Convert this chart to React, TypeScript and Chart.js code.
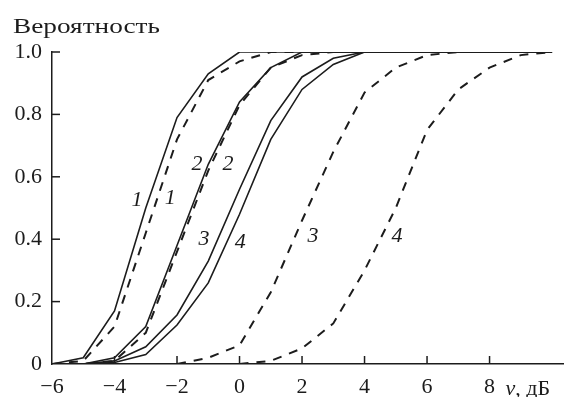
import React, { useEffect, useRef } from 'react';
import { Chart, registerables } from 'chart.js';

Chart.register(...registerables);

const xValues = [-6, -5, -4, -3, -2, -1, 0, 1, 2, 3, 4, 5, 6, 7, 8, 9, 10];
const solid1 = [0, 0.02, 0.17, 0.5, 0.79, 0.93, 1, 1, 1, 1, 1, 1, 1, 1, 1, 1, 1];
const dashed1 = [0, 0.01, 0.12, 0.42, 0.72, 0.91, 0.97, 1, 1, 1, 1, 1, 1, 1, 1, 1, 1];
const solid2 = [0, 0, 0.02, 0.12, 0.38, 0.64, 0.84, 0.95, 1, 1, 1, 1, 1, 1, 1, 1, 1];
const dashed2 = [0, 0, 0.01, 0.1, 0.36, 0.62, 0.83, 0.95, 0.99, 1, 1, 1, 1, 1, 1, 1, 1];
const solid3 = [0, 0, 0.01, 0.055, 0.157, 0.33, 0.56, 0.78, 0.92, 0.98, 1, 1, 1, 1, 1, 1, 1];
const solid4 = [0, 0, 0.005, 0.03, 0.125, 0.26, 0.48, 0.72, 0.88, 0.96, 1, 1, 1, 1, 1, 1, 1];
const dashed3 = [null, null, null, null, 0, 0.02, 0.06, 0.23, 0.46, 0.68, 0.87, 0.95, 0.99, 1, 1, 1, 1];
const dashed4 = [null, null, null, null, null, null, 0, 0.01, 0.05, 0.13, 0.3, 0.5, 0.75, 0.88, 0.95, 0.99, 1];

const curveLabels = ['1', '1', '2', '2', '3', '4', '3', '4'];
const labelX = [-3.28, -2.22, -1.36, -0.37, -1.14, 0.02, 2.35, 5.04];
const labelY = [0.526, 0.53, 0.64, 0.64, 0.4, 0.39, 0.41, 0.41];

const xTicks = [-6, -4, -2, 0, 2, 4, 6, 8];
const yTicks = [0, 0.2, 0.4, 0.6, 0.8, 1.0];
const yTitle = 'Вероятность';
const xTitleVar = 'v';
const xTitleUnit = ', дБ';

const SERIF = "'Liberation Serif', 'Times New Roman', Times, serif";
const INK = '#1c1c1c';

function toPoints(ys: (number | null)[]) {
  return xValues.map((x, i) => ({ x, y: ys[i] })).filter((p) => p.y !== null);
}

const annotatePlugin = {
  id: 'annotate',
  afterDraw(chart: any) {
    const { ctx, chartArea } = chart;
    const xs = chart.scales.x;
    const ys = chart.scales.y;
    ctx.save();
    ctx.strokeStyle = INK;
    ctx.lineWidth = 1.5;
    xTicks.forEach((v, i) => {
      if (i === 0) return;
      const px = xs.getPixelForValue(v);
      ctx.beginPath();
      ctx.moveTo(px, chartArea.bottom);
      ctx.lineTo(px, chartArea.bottom - 8);
      ctx.stroke();
    });
    yTicks.forEach((v) => {
      if (v === 0) return;
      const py = ys.getPixelForValue(v);
      ctx.beginPath();
      ctx.moveTo(chartArea.left, py);
      ctx.lineTo(chartArea.left + 8, py);
      ctx.stroke();
    });

    ctx.fillStyle = INK;
    ctx.font = `italic 22px ${SERIF}`;
    ctx.textAlign = 'center';
    ctx.textBaseline = 'middle';
    curveLabels.forEach((t, i) => {
      ctx.fillText(t, xs.getPixelForValue(labelX[i]), ys.getPixelForValue(labelY[i]));
    });

    // y title
    ctx.font = `22px ${SERIF}`;
    ctx.textAlign = 'left';
    ctx.textBaseline = 'alphabetic';
    const w = ctx.measureText(yTitle).width;
    ctx.save();
    ctx.translate(13, chartArea.top - 19);
    ctx.scale(147 / w, 1);
    ctx.fillText(yTitle, 0, 0);
    ctx.restore();

    // x title
    const bx = xs.getPixelForValue(8) + 16;
    const by = chartArea.bottom + 31;
    ctx.font = `italic 22px ${SERIF}`;
    ctx.fillText(xTitleVar, bx, by);
    const vw = ctx.measureText(xTitleVar).width;
    ctx.font = `22px ${SERIF}`;
    ctx.fillText(xTitleUnit, bx + vw, by);
    ctx.restore();
  },
};

export default function App() {
  const ref = useRef<HTMLCanvasElement>(null);
  useEffect(() => {
    if (!ref.current) return;
    const solidStyle = { borderColor: INK, borderWidth: 1.6, pointRadius: 0, fill: false, tension: 0 };
    const dashStyle = { ...solidStyle, borderWidth: 2, borderDash: [9, 8] };
    const chart = new Chart(ref.current, {
      type: 'line',
      data: {
        datasets: [
          { ...solidStyle, data: toPoints(solid1) },
          { ...dashStyle, data: toPoints(dashed1) },
          { ...solidStyle, data: toPoints(solid2) },
          { ...dashStyle, data: toPoints(dashed2) },
          { ...solidStyle, data: toPoints(solid3) },
          { ...solidStyle, data: toPoints(solid4) },
          { ...dashStyle, data: toPoints(dashed3) },
          { ...dashStyle, data: toPoints(dashed4) },
        ] as any,
      },
      options: {
        animation: false,
        responsive: true,
        maintainAspectRatio: false,
        layout: { padding: { top: 52, right: 1, left: 0, bottom: 0 } },
        plugins: { legend: { display: false }, tooltip: { enabled: false } },
        scales: {
          x: {
            type: 'linear',
            min: -6,
            max: 10.35,
            grid: { display: false, drawTicks: false },
            border: { display: true, color: INK, width: 1.5 },
            afterBuildTicks: (s: any) => {
              s.ticks = xTicks.map((v) => ({ value: v }));
            },
            afterFit: (s: any) => {
              s.height = 33;
            },
            ticks: {
              color: INK,
              padding: 10,
              maxRotation: 0,
              font: { family: SERIF, size: 22 },
              callback: (v: any) => (v < 0 ? '\u2212' + Math.abs(v) : String(v)),
            },
          },
          y: {
            type: 'linear',
            min: 0,
            max: 1,
            grid: { display: false, drawTicks: false },
            border: { display: true, color: INK, width: 1.5 },
            afterBuildTicks: (s: any) => {
              s.ticks = yTicks.map((v) => ({ value: v }));
            },
            afterFit: (s: any) => {
              s.width = 52;
            },
            ticks: {
              color: INK,
              padding: 10,
              font: { family: SERIF, size: 22 },
              callback: (v: any) => (v === 0 ? '0' : Number(v).toFixed(1)),
            },
          },
        },
      },
      plugins: [annotatePlugin],
    });
    let alive = true;
    const fonts = (document as any).fonts;
    if (fonts && fonts.load) {
      Promise.all([
        fonts.load(`22px "Liberation Serif"`),
        fonts.load(`italic 22px "Liberation Serif"`),
      ])
        .then(() => {
          if (alive) chart.update();
        })
        .catch(() => {});
    }
    return () => {
      alive = false;
      chart.destroy();
    };
  }, []);
  return (
    <div style={{ position: 'absolute', left: 0, top: 0, width: 564, height: 397, background: '#fff' }}>
      <span style={{ fontFamily: 'Liberation Serif', position: 'absolute', visibility: 'hidden' }}>Вероятность v</span>
      <span style={{ fontFamily: 'Liberation Serif', fontStyle: 'italic', position: 'absolute', visibility: 'hidden' }}>1234</span>
      <canvas ref={ref} />
    </div>
  );
}
